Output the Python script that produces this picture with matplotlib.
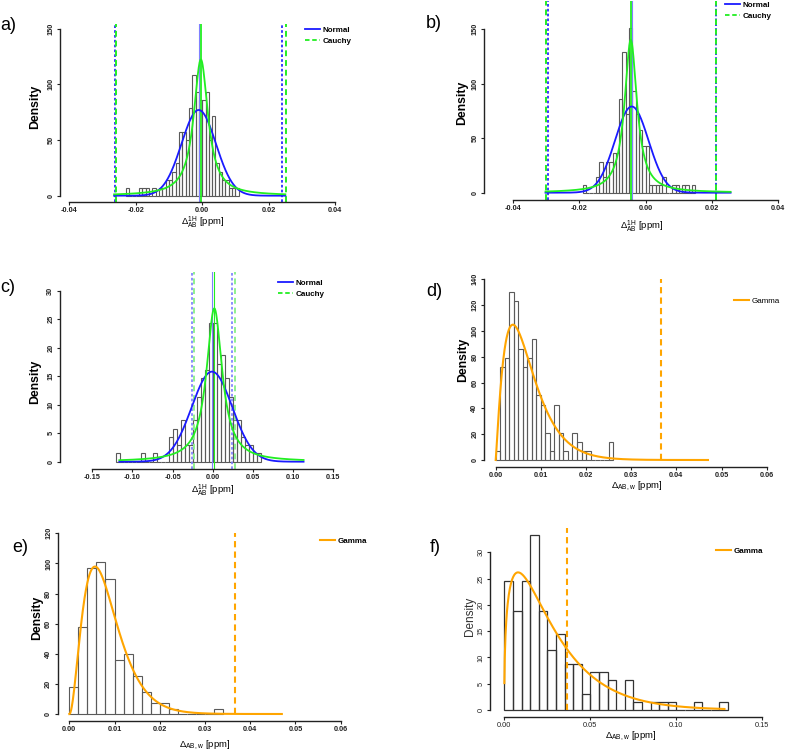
import math
import numpy as np
import matplotlib
matplotlib.use('Agg')
import matplotlib.pyplot as plt
from matplotlib.lines import Line2D

plt.rcParams['font.family'] = ['Liberation Sans', 'DejaVu Sans']
plt.rcParams['mathtext.fontset'] = 'custom'
plt.rcParams['mathtext.rm'] = 'Liberation Sans'
plt.rcParams['mathtext.bf'] = 'Liberation Sans:bold'
plt.rcParams['mathtext.default'] = 'regular'

W, H = 787, 752

# ---- histogram data (density per bin) ----
a_start, a_bw = -0.023, 0.001
a_dens = [7, 0, 0, 0, 7, 7, 7, 0, 7, 0, 7, 7, 14, 14, 21, 29, 57, 57, 50, 79,
          108, 93, 86, 86, 93, 50, 72, 29, 21, 14, 14, 7, 7, 7]
b_start, b_bw = -0.019, 0.001
b_dens = [7, 0, 0, 0, 14, 28, 14, 28, 28, 36, 36, 86, 129, 72, 151, 93, 72, 57,
          43, 43, 7, 7, 7, 7, 14, 0, 0, 7, 7, 0, 7, 7, 0, 7]
c_start, c_bw = -0.12, 0.005
c_dens = [1.46, 0, 0, 0, 0, 0, 1.46, 0, 0, 1.46, 0, 0, 0, 4.4, 5.8, 2.9, 7.3, 2.9,
          2.9, 7.3, 11.4, 14.6, 16.0, 24.4, 24.4, 17.2, 18.7, 14.6, 11.4, 7.3, 7.3,
          4.4, 2.9, 2.9, 1.46, 1.46]
d_start, d_bw = 0.0, 0.001
d_dens = [7, 72, 79, 130, 123, 86, 72, 79, 94, 50, 43, 21, 7, 43, 21, 7, 0, 21, 14,
          7, 7, 0, 0, 0, 0, 14]
e_start, e_bw = 0.0, 0.002
e_dens = [18.2, 57.8, 97.2, 100.7, 89.9, 35.9, 39.6, 25, 14.4, 7.1, 7.1, 3.6, 0, 0,
          0, 0, 3.6]
f_start, f_bw = 0.0, 0.005
f_dens = [24.5, 18.9, 24.5, 33.3, 18.9, 11.5, 14.5, 8.7, 8.7, 3.0, 7.2, 7.2, 5.8, 0,
          5.8, 1.5, 0, 1.5, 1.5, 1.5, 0, 0, 1.5, 0, 0, 1.5]

# ---- fitted distributions ----
# (normal mean, sd), (cauchy loc, scale), curve range, normal limits, cauchy limits
a_norm, a_cau, a_rng = (-0.00105, 0.00518), (-0.0004, 0.0026), (-0.0265, 0.025)
a_nlim, a_clim = (-0.0263, 0.0241), (-0.0259, 0.0251)
b_norm, b_cau, b_rng = (-0.0042, 0.00505), (-0.0045, 0.00227), (-0.0302, 0.0256)
b_nlim, b_clim = (-0.0295, 0.0212), (-0.0302, 0.0213)
c_norm, c_cau, c_rng = (-0.001, 0.02525), (0.0019, 0.01183), (-0.1164, 0.113)
c_nlim, c_clim = (-0.0259, 0.0243), (-0.0238, 0.0276)
# gamma shape, rate, curve range, cutoff, cutoff line top
d_gam, d_rng, d_cut, d_top = (2.15, 302.6), (0.0, 0.047), 0.0366, 140
e_gam, e_rng, e_cut, e_top = (3.1, 370.0), (0.0, 0.047), 0.0366, 120
f_gam, f_rng, f_cut, f_top = (1.4, 50.0), (0.00005, 0.128), 0.0366, 34.6

BLUE = '#1a1aff'
GREEN = '#22ee22'
ORANGE = '#ffa500'


def norm_pdf(x, m, s):
    return np.exp(-0.5 * ((x - m) / s) ** 2) / (s * math.sqrt(2 * math.pi))


def cauchy_pdf(x, loc, sc):
    return 1.0 / (math.pi * sc * (1 + ((x - loc) / sc) ** 2))


def gamma_pdf(x, k, rate):
    return rate ** k * x ** (k - 1) * np.exp(-rate * x) / math.gamma(k)


def make_axes(fig, L, R, T, B, x0, sx, y0, sy, xt, yt, bold=True):
    ax = fig.add_axes([L / W, 1 - B / H, (R - L) / W, (B - T) / H])
    ax.set_xlim((L - x0) / sx, (R - x0) / sx)
    ax.set_ylim((y0 - B) / sy, (y0 - T) / sy)
    ax.patch.set_alpha(0)
    for s in ['top', 'right']:
        ax.spines[s].set_visible(False)
    ax.spines['left'].set_bounds(yt[0], yt[-1])
    ax.spines['bottom'].set_bounds(xt[0], xt[-1])
    for s in ['left', 'bottom']:
        ax.spines[s].set_linewidth(1.0)
        ax.spines[s].set_color('#222222')
    ax.set_xticks(xt)
    ax.set_yticks(yt)
    ax.tick_params(length=2.3, width=0.8, pad=1.2, labelsize=5.3, colors='#222222')
    ax.tick_params(axis='y', pad=1.8)
    w = 'bold' if bold else 'normal'
    for lab in ax.get_xticklabels():
        lab.set_fontweight(w)
    for lab in ax.get_yticklabels():
        lab.set_fontweight(w)
        lab.set_rotation(90)
        lab.set_va('center')
    return ax


def draw_hist(ax, start, bw, dens, ec='#5a5a5a', lw=0.8):
    lefts = [start + i * bw for i in range(len(dens))]
    ax.bar(lefts, dens, width=bw, align='edge', facecolor='none',
           edgecolor=ec, linewidth=lw, zorder=1)


def ftext(fig, px, py, s, **kw):
    fig.text(px / W, 1 - py / H, s, **kw)


fig = plt.figure(figsize=(W / 100, H / 100), dpi=100)
fig.patch.set_facecolor('white')

xlab_1h = r'$\Delta_{AB}^{1H}$ [ppm]'
xlab_w = r'$\Delta_{AB,w}$ [ppm]'


def sym_panel(ax, start, bw, dens, nrm, cau, rng, nlim, clim, light=False):
    draw_hist(ax, start, bw, dens)
    x = np.linspace(rng[0], rng[1], 600)
    ax.plot(x, norm_pdf(x, *nrm), color=BLUE, lw=1.3, zorder=3)
    ax.plot(x, cauchy_pdf(x, *cau), color=GREEN, lw=1.3, zorder=3)
    if light:
        bc, gc = '#7a7aff', '#8ff08f'
    else:
        bc, gc = BLUE, GREEN
    ax.axvline(nrm[0], color='#8080ff', lw=0.8, zorder=2)
    ax.axvline(cau[0], color=GREEN, lw=1.3 if not light else 0.8, zorder=2)
    for v in nlim:
        ax.axvline(v, color=bc, lw=1.2, ls=(0, (1.6, 1.3)), zorder=2)
    for v in clim:
        ax.axvline(v, color=gc, lw=1.4, ls=(0, (3.0, 2.0)), zorder=2)


def legend2(fig, ax, px, py):
    h = [Line2D([], [], color=BLUE, lw=1.3),
         Line2D([], [], color=GREEN, lw=1.3, ls=(0, (2.5, 1.5)))]
    ax.legend(h, ['Normal', 'Cauchy'], loc='upper left',
              bbox_to_anchor=(px / W, 1 - py / H), bbox_transform=fig.transFigure,
              frameon=False, handlelength=1.9, handletextpad=0.25, borderpad=0,
              borderaxespad=0, labelspacing=0.45,
              prop={'size': 5.8, 'weight': 'bold'})


def legend1(fig, ax, px, py, bold=True):
    h = [Line2D([], [], color=ORANGE, lw=1.5)]
    ax.legend(h, ['Gamma'], loc='upper left',
              bbox_to_anchor=(px / W, 1 - py / H), bbox_transform=fig.transFigure,
              frameon=False, handlelength=1.9, handletextpad=0.25, borderpad=0,
              borderaxespad=0, prop={'size': 5.8, 'weight': 'bold' if bold else 'normal'})


def gamma_panel(ax, start, bw, dens, gam, rng, cut, top, ec='#5a5a5a', lw=0.8):
    draw_hist(ax, start, bw, dens, ec=ec, lw=lw)
    x = np.linspace(rng[0], rng[1], 600)
    ax.plot(x, gamma_pdf(x, *gam), color=ORANGE, lw=1.5, zorder=3)
    ax.vlines(cut, 0, top, color=ORANGE, lw=1.5, ls=(0, (3.0, 2.0)), zorder=2)


# ---- a) ----
ax = make_axes(fig, 60, 344, 24, 202, 202.2, 3325, 195.7, 1.113,
               [-0.04, -0.02, 0.0, 0.02, 0.04], [0, 50, 100, 150])
ax.set_xticklabels(['-0.04', '-0.02', '0.00', '0.02', '0.04'])
sym_panel(ax, a_start, a_bw, a_dens, a_norm, a_cau, a_rng, a_nlim, a_clim)
legend2(fig, ax, 305, 26)
ftext(fig, 0, 25, 'a)', fontsize=13, va='center')
ftext(fig, 35, 107, 'Density', fontsize=8.8, fontweight='bold', rotation=90,
      ha='center', va='center')
ftext(fig, 203, 222, xlab_1h, fontsize=6.8, ha='center', va='center')

# ---- b) ----
ax = make_axes(fig, 484, 787, 1, 200, 645.7, 3316, 192.7, 1.0913,
               [-0.04, -0.02, 0.0, 0.02, 0.04], [0, 50, 100, 150])
ax.set_xticklabels(['-0.04', '-0.02', '0.00', '0.02', '0.04'])
sym_panel(ax, b_start, b_bw, b_dens, b_norm, b_cau, b_rng, b_nlim, b_clim)
legend2(fig, ax, 725, 1)
ftext(fig, 426, 24, 'b)', fontsize=13, va='center')
ftext(fig, 462, 103, 'Density', fontsize=8.8, fontweight='bold', rotation=90,
      ha='center', va='center')
ftext(fig, 642, 226, xlab_1h, fontsize=6.8, ha='center', va='center')

# ---- c) ----
ax = make_axes(fig, 60, 365, 271.7, 469, 212.8, 803.3, 461.7, 5.7,
               [-0.15, -0.10, -0.05, 0.0, 0.05, 0.10, 0.15], [0, 5, 10, 15, 20, 25, 30])
ax.set_xticklabels(['-0.15', '-0.10', '-0.05', '0.00', '0.05', '0.10', '0.15'])
sym_panel(ax, c_start, c_bw, c_dens, c_norm, c_cau, c_rng, c_nlim, c_clim, light=True)
legend2(fig, ax, 278, 279)
ftext(fig, 0, 288, 'c)', fontsize=13, va='center')
ftext(fig, 35, 382, 'Density', fontsize=8.8, fontweight='bold', rotation=90,
      ha='center', va='center')
ftext(fig, 213, 490, xlab_1h, fontsize=6.8, ha='center', va='center')

# ---- d) ----
ax = make_axes(fig, 484, 778, 272, 467.3, 495.7, 4516.7, 460, 1.2905,
               [0.0, 0.01, 0.02, 0.03, 0.04, 0.05, 0.06], [0, 20, 40, 60, 80, 100, 120, 140])
ax.set_xticklabels(['0.00', '0.01', '0.02', '0.03', '0.04', '0.05', '0.06'])
gamma_panel(ax, d_start, d_bw, d_dens, d_gam, d_rng, d_cut, d_top)
legend1(fig, ax, 734, 297, bold=False)
ftext(fig, 426, 292, 'd)', fontsize=13, va='center')
ftext(fig, 463, 360, 'Density', fontsize=8.8, fontweight='bold', rotation=90,
      ha='center', va='center')
ftext(fig, 637, 486, xlab_w, fontsize=6.8, ha='center', va='center')

# ---- e) ----
ax = make_axes(fig, 57.7, 352, 526, 720.7, 69.3, 4522, 714, 1.5056,
               [0.0, 0.01, 0.02, 0.03, 0.04, 0.05, 0.06], [0, 20, 40, 60, 80, 100, 120])
ax.set_xticklabels(['0.00', '0.01', '0.02', '0.03', '0.04', '0.05', '0.06'])
gamma_panel(ax, e_start, e_bw, e_dens, e_gam, e_rng, e_cut, e_top)
legend1(fig, ax, 320, 537)
ftext(fig, 12, 548, 'e)', fontsize=13, va='center')
ftext(fig, 37, 618, 'Density', fontsize=8.8, fontweight='bold', rotation=90,
      ha='center', va='center')
ftext(fig, 205, 745, xlab_w, fontsize=6.8, ha='center', va='center')

# ---- f) ----
ax = make_axes(fig, 490, 780, 521, 717.3, 504.3, 1720, 710, 5.256,
               [0.0, 0.05, 0.10, 0.15], [0, 5, 10, 15, 20, 25, 30], bold=False)
ax.set_xticklabels(['0.00', '0.05', '0.10', '0.15'])
gamma_panel(ax, f_start, f_bw, f_dens, f_gam, f_rng, f_cut, f_top, ec='#333333', lw=0.9)
legend1(fig, ax, 716, 547)
ftext(fig, 430, 548, 'f)', fontsize=13, va='center')
ftext(fig, 470, 616, 'Density', fontsize=8.5, rotation=90, color='#333333',
      ha='center', va='center')
ftext(fig, 631, 736, xlab_w, fontsize=6.8, ha='center', va='center')

fig.savefig('out.png', dpi=100)
